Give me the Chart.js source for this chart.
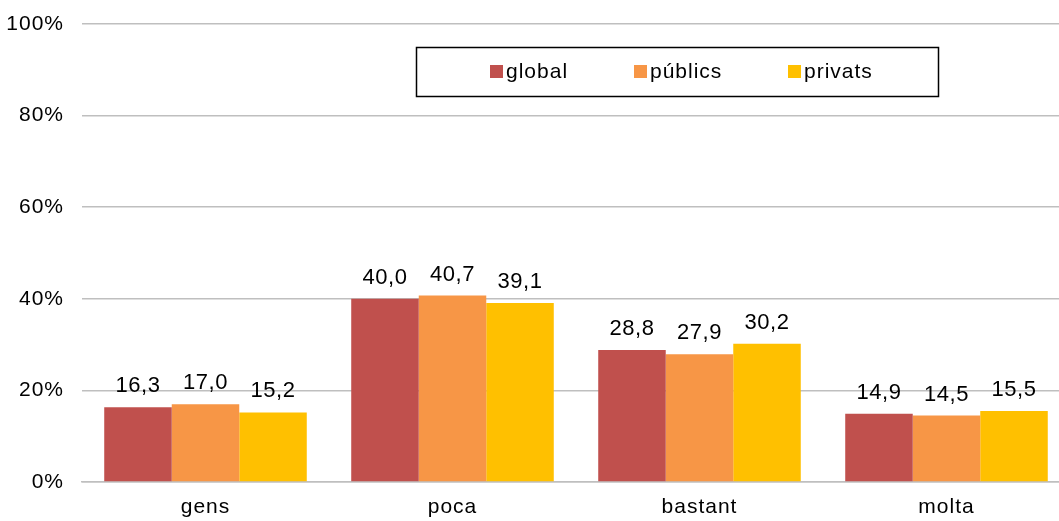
<!DOCTYPE html>
<html lang="ca">
<head>
<meta charset="UTF-8">
<title>Gràfic</title>
<script src="https://cdn.jsdelivr.net/npm/chart.js"></script>
<style>
  html, body { margin: 0; padding: 0; background: #fff; overflow: hidden; }
  #wrap { width: 1071px; height: 521px; }
</style>
</head>
<body>
<div id="wrap"><canvas id="grafic"></canvas></div>
<script>
// dades
const categories = ['gens', 'poca', 'bastant', 'molta'];
const globalVals = [16.3, 40.0, 28.8, 14.9];
const publicsVals = [17.0, 40.7, 27.9, 14.5];
const privatsVals = [15.2, 39.1, 30.2, 15.5];
const seriesNames = ['global', 'públics', 'privats'];
const seriesColors = ['#C0504D', '#F79646', '#FFC000'];
const yTicks = [0, 20, 40, 60, 80, 100];

const FONT = 'Liberation Sans, Arial, sans-serif';
const SIZE = 21;
const SPACING = '1px';

// el text de l'original és una mica eixamplat: hi afegim espaiat
const wideText = {
    id: 'wideText',
    beforeDraw(chart) {
        chart.ctx.letterSpacing = SPACING;
    }
};

// etiquetes de valor sobre les barres
const valueLabels = {
    id: 'valueLabels',
    afterDatasetsDraw(chart) {
        const ctx = chart.ctx;
        ctx.save();
        ctx.letterSpacing = '0.5px';
        ctx.font = '22px ' + FONT;
        ctx.fillStyle = '#000';
        ctx.textAlign = 'center';
        ctx.textBaseline = 'bottom';
        chart.data.datasets.forEach((ds, i) => {
            chart.getDatasetMeta(i).data.forEach((bar, j) => {
                const txt = ds.data[j].toFixed(1).replace('.', ',');
                ctx.fillText(txt, bar.x, bar.y - 10);
            });
        });
        ctx.restore();
    }
};

// llegenda amb marc
const boxLegend = {
    id: 'boxLegend',
    afterDraw(chart) {
        const ctx = chart.ctx;
        ctx.save();
        ctx.letterSpacing = SPACING;
        ctx.strokeStyle = '#000';
        ctx.lineWidth = 1.5;
        ctx.strokeRect(416.5, 47.5, 522, 49);
        const xs = [490, 634, 788];
        ctx.font = SIZE + 'px ' + FONT;
        ctx.textBaseline = 'middle';
        ctx.textAlign = 'left';
        chart.data.datasets.forEach((ds, i) => {
            ctx.fillStyle = ds.backgroundColor;
            ctx.fillRect(xs[i], 65, 13, 13);
            ctx.fillStyle = '#000';
            ctx.fillText(ds.label, xs[i] + 16, 72);
        });
        ctx.restore();
    }
};

const ctx = document.getElementById('grafic').getContext('2d');
new Chart(ctx, {
    type: 'bar',
    data: {
        labels: categories,
        datasets: [
            { label: seriesNames[0], data: globalVals, backgroundColor: seriesColors[0] },
            { label: seriesNames[1], data: publicsVals, backgroundColor: seriesColors[1] },
            { label: seriesNames[2], data: privatsVals, backgroundColor: seriesColors[2] }
        ]
    },
    options: {
        responsive: true,
        maintainAspectRatio: false,
        animation: false,
        layout: { padding: { top: 24, right: 1, bottom: 0, left: 0 } },
        datasets: { bar: { barPercentage: 1, categoryPercentage: 0.82 } },
        plugins: {
            legend: { display: false },
            tooltip: { enabled: false }
        },
        scales: {
            x: {
                afterFit(scale) { scale.height = 39; },
                grid: { display: false, drawTicks: false },
                border: { display: true, color: '#bfbfbf', width: 1.5 },
                ticks: { color: '#000', font: { family: FONT, size: SIZE }, padding: 13 }
            },
            y: {
                min: 0,
                max: 100,
                afterBuildTicks(scale) {
                    scale.ticks = yTicks.map(v => ({ value: v }));
                },
                afterFit(scale) {
                    scale.width = 82;
                    scale.paddingTop = 0;
                    scale.paddingBottom = 0;
                },
                grid: { color: '#bfbfbf', lineWidth: 1.5, drawTicks: false },
                border: { display: false },
                ticks: {
                    color: '#000',
                    font: { family: FONT, size: SIZE },
                    padding: 18,
                    callback: v => v + '%'
                }
            }
        }
    },
    plugins: [wideText, valueLabels, boxLegend]
});
</script>
</body>
</html>
